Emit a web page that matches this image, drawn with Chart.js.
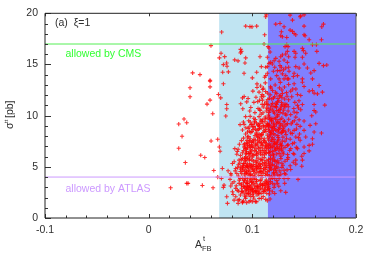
<!DOCTYPE html>
<html>
<head>
<meta charset="utf-8">
<style>
  html, body { margin: 0; padding: 0; background: #fff; }
  canvas { display: block; }
</style>
<script src="https://cdn.jsdelivr.net/npm/chart.js@4/dist/chart.umd.min.js"></script>
</head>
<body>
<canvas id="chart" width="374" height="262"></canvas>
<script>
// limits read from the experiments
const cmsLimit = 17;
const atlasLimit = 4;
const lightBand = [0.068, 0.115];
const darkBand = [0.115, 0.2];
const xMajor = [-0.1, 0, 0.1, 0.2];
const yMajor = [0, 5, 10, 15, 20];

// parameter scan, same order in both arrays
const afb = [
  .0936,.0977,.0704,.0601,.0887,.0894,.0887,.0698,.0733,.0682,.0936,.083,.0862,.0929,.0752,.0721,.0756,.0714,.0769,.092,.0424,.0495,.0592,
  .1135,.1129,.1364,.1467,.1499,.1387,.1461,.0997,.1042,.1226,.1267,.1306,.1499,.1686,.167,.1364,.1387,.1403,.1419,.128,.1274,.129,.1332,.1119,.1499,.1509,.1667,.1548,
  .1113,.1332,.1316,.1345,.158,.1618,.1161,.1151,.1483,.1493,.1515,.1622,.1171,.1338,.1403,.1419,.129,.1322,.1274,.135,.1412,.1074,.1145,.1483,.1226,.1177,.121,.1258,.1306,.1338,
  .1499,.1644,.1686,.1718,.1129,.1145,.1087,.1267,.128,.1203,.1242,.1322,.135,.1419,.1451,.1531,.1564,.1596,.1042,.1145,.1129,.1119,.1235,.129,.1322,.1403,.1435,.1483,.158,.1,
  .1177,.1258,.1306,.135,.1161,.1216,.13,.1354,.1396,.1338,.1193,.1267,
  .0592,.0399,.0592,.0721,.0399,.0673,.0695,.0592,.0563,.0753,.0753,.0618,.0744,.0341,.029,.0367,.0322,.0602,.0666,.029,.0682,
  .0905,.0921,.0959,.0888,.0946,.0908,.0975,.0979,.0882,.0914,.0921,.0953,.0969,.0937,.0895,.0953,.0969,.0927,.0953,.0921,.0831,.0863,.0979,.0937,.0979,.0979,
  .0502,.0541,.0354,.0628,.0689,.0711,.0766,.0666,.0702,.0212,.0367,.038,.0518,.0621,.0727,.0721,.076,.0753,.0792,.0785,.0824,.0808,.0824,.084,.0863,.0905,.0863,.0895,.0921,.085,.0808,.085,.0872,.0905,.084,
  .0969,.0937,.0959,.0946,.0921,.0882,.0872,.0953,.0969,.0937,.0905,.0953,.0921,.0969,.0937,.0888,.0969,.0979,.084,.0792,
  .1548,.1499,.1403,.1477,.1419,.1483,.1338,.1419,.1477,.137,.1306,.1274,.1322,.1441,.1345,.1306,.1312,.1274,.1322,.1216,.1193,.1171,.1145,.1129,.1139,.1087,.1042,.1,.101,.1065,.1106,.1161,.1209,.1242,.1258,.1216,.1193,.1145,.1097,.1048,.1,.1032,
  .1483,.1499,.1403,.158,.1548,.1644,.1596,.1628,.1676,.1467,.1435,.1596,.1699,.1483,.1435,.1596,.1612,.1467,.1403,.1573,.1451,.1499,.1419,.1612,.1557,.1461,.1387,.1596,.1667,.1499,.1403,.137,.1515,.1419,.158,.1548,.158,.1461,.1387,.1338,.137,.1499,.1435,
  .1045,.108,.1125,.118,.122,.127,.131,.135,.139,.1005,.1065,.11,.1145,.1195,.1235,.1285,.133,.137,.142,.1095,.1045,
  .1015,.1035,.107,.111,.1135,.1165,.1195,.1215,.1255,.1285,.1315,.135,.138,.141,.1095,.115,.1235,.1275,.1335,.145,
  .0985,.1025,.1055,.1085,.1105,.1135,.1155,.1175,.1205,.1225,.1245,.1265,.1295,.1315,.1345,.137,.14,.143,.1075,.115,.1235,.128,.1325,.1445,
  .0935,.0965,.0995,.1015,.104,.1065,.1085,.1105,.1125,.1145,.1165,.1185,.1205,.1225,.1245,.1265,.1285,.1305,.1325,.135,.1375,.1405,.143,.11,.118,.124,.116,.106,.102,
  .0905,.0935,.096,.0985,.1005,.1025,.1045,.1065,.1085,.1105,.1125,.1145,.1165,.1185,.1205,.1225,.1245,.1265,.1285,.1305,.1325,.135,.1385,.1425,.1455,.103,.107,.113,.1175,.1215,.1255,.1295,.109,
  .0875,.0915,.0945,.0975,.0995,.1015,.1035,.1055,.1075,.1095,.1115,.1135,.1155,.1175,.1195,.1215,.1235,.1255,.1275,.1295,.1315,.1345,.1365,.1405,.1445,.101,.105,.1085,.112,.1165,.1205,.1245,.128,.133,.0965,.115,
  .0855,.0885,.0915,.0935,.0955,.0975,.0995,.1015,.1035,.1055,.1075,.1095,.1115,.1135,.1155,.1175,.1195,.1215,.1235,.1255,.1275,.1295,.1315,.134,.136,.1395,.1425,.1,.104,.108,.1125,.1165,.1205,.1245,.1285,.0945,.0985,
  .0825,.0865,.0895,.0915,.0935,.0955,.0975,.0995,.1015,.1035,.1055,.1075,.1095,.1115,.1135,.1155,.1175,.1195,.1215,.1235,.1255,.1275,.1295,.1315,.1345,.1365,.1395,.1,.104,.108,.1125,.1165,.1205,.1245,.1285,.0985,.0945,.0925,
  .0795,.0835,.0865,.0885,.0905,.0925,.0945,.0965,.0985,.1005,.1025,.1045,.1065,.1085,.1105,.1125,.1145,.1165,.1185,.1205,.1225,.1245,.1265,.1285,.131,.1335,.1,.104,.108,.113,.1175,.1215,.126,.0975,.0935,
  .0805,.0845,.0875,.0895,.0915,.0935,.0955,.0975,.0995,.1015,.1035,.1055,.1075,.1095,.1115,.1135,.1155,.1175,.1195,.1215,.1235,.1255,.1,.104,.108,.1125,.0985,.0945,
  .0815,.0855,.0885,.0905,.0925,.0945,.0965,.0985,.1005,.1025,.1045,.1065,.1085,.1105,.1125,.1145,.1165,.1,.0975,.104,
  .0875,.0915,.0935,.098,.1015,.103,.1065,.0905,.0945
];
const sigma = [
  18.75,18.7,18.17,16.84,16.48,16.28,16.13,16.09,15.77,15.64,15.64,15.45,15.35,15.15,15.15,14.99,14.82,14.24,14.28,14.14,14.18,14.01,13.46,
  19.85,19.66,19.82,19.75,19.85,19.33,19.66,18.68,18.75,18.94,19.01,18.68,18.75,18.94,18.68,18.36,18.23,18.03,17.9,18.2,17.81,17.71,17.64,17.9,17.9,17.81,17.42,17.42,
  17.0,16.93,16.74,16.74,16.93,16.93,16.61,16.74,16.57,16.35,16.09,16.28,16.22,16.28,16.28,16.09,15.93,16.02,15.76,15.76,15.7,15.76,15.7,15.7,15.6,15.21,15.37,15.31,15.44,15.21,
  15.05,15.11,14.89,14.95,14.73,14.79,14.79,14.89,14.73,14.34,14.4,14.66,14.73,14.79,14.66,14.66,14.17,14.4,14.24,14.14,13.91,13.75,13.91,14.08,13.91,14.14,13.91,13.59,13.59,13.69,
  13.59,13.59,13.59,13.59,15.11,14.73,14.47,14.34,13.82,13.59,15.05,14.4,
  13.37,12.72,12.81,13.11,11.84,12.07,11.74,11.52,11.13,11.09,10.67,10.19,9.96,9.67,9.18,9.31,7.98,7.53,7.69,6.81,6.94,
  11.74,11.87,11.68,11.16,11.35,10.67,10.45,9.93,9.12,9.38,9.15,8.4,8.89,8.82,7.56,7.91,7.43,7.27,7.1,6.94,6.78,6.71,6.94,6.78,7.75,9.38,
  6.13,5.91,5.42,4.64,6.52,4.84,4.61,3.99,3.86,2.95,3.38,3.38,3.18,2.95,3.21,2.99,1.43,2.08,3.12,3.77,3.54,2.57,1.75,2.08,1.75,1.59,1.43,2.57,3.05,4.35,5.32,6.23,5.65,5.81,4.84,
  1.59,2.08,2.4,2.73,3.7,3.86,3.38,3.38,4.19,4.35,4.67,5.0,5.32,5.65,5.97,5.0,6.3,3.05,2.89,4.35,
  6.56,6.3,6.23,6.04,5.65,5.65,5.71,5.26,5.06,4.74,4.67,4.28,4.28,3.77,3.86,3.86,3.38,2.66,2.5,2.4,2.57,1.85,1.69,1.82,2.4,1.92,1.59,1.59,2.08,2.4,2.57,2.89,2.99,3.38,3.86,3.86,3.38,3.38,3.21,3.05,2.73,2.57,
  13.27,12.85,13.11,12.46,12.39,12.94,12.2,12.13,12.3,11.97,12.07,11.09,11.03,11.09,11.0,10.51,10.35,10.58,10.35,9.99,9.6,9.47,9.86,9.21,9.05,8.95,9.38,8.4,8.3,8.56,8.56,8.3,7.92,7.92,7.75,7.1,7.2,7.59,7.27,7.1,6.78,6.94,6.78,
  13.1,12.9,13.2,12.7,13.0,13.25,12.8,13.05,12.6,12.4,12.3,12.55,12.2,12.45,12.15,12.5,12.25,12.4,12.6,12.05,12.75,
  11.3,11.8,11.5,11.9,11.35,11.7,11.2,11.85,11.45,11.75,11.15,11.55,11.85,11.3,11.1,11.05,11.1,11.95,11.9,11.45,
  10.8,10.3,10.7,10.15,10.85,10.45,10.05,10.75,10.35,10.9,10.1,10.6,10.25,10.85,10.45,10.1,10.7,10.3,10.5,10.65,10.5,10.95,10.05,10.75,
  9.9,9.5,9.15,9.75,9.3,9.9,9.45,9.05,9.7,9.25,9.85,9.4,9.1,9.65,9.95,9.25,9.75,9.4,9.1,9.65,9.2,9.5,9.15,9.6,9.7,9.45,9.05,9.1,9.45,
  8.6,8.2,8.75,8.35,8.9,8.05,8.55,8.2,8.8,8.35,8.65,8.1,8.5,8.85,8.25,8.6,8.05,8.75,8.35,8.9,8.15,8.6,8.25,8.7,8.2,8.7,8.95,8.9,8.2,8.95,8.4,8.55,8.1,
  7.2,7.8,7.35,7.55,7.05,7.7,7.25,7.9,7.45,7.1,7.75,7.3,7.6,7.05,7.85,7.4,7.15,7.7,7.3,7.9,7.5,7.15,7.7,7.35,7.85,7.4,7.55,7.8,7.5,7.95,7.15,7.55,7.05,7.75,7.95,7.15,
  6.5,6.1,6.6,6.25,6.85,6.05,6.55,6.2,6.75,6.35,6.9,6.15,6.6,6.3,6.8,6.1,6.5,6.85,6.25,6.65,6.05,6.45,6.9,6.2,6.6,6.3,6.9,6.9,6.1,6.45,6.95,6.4,6.15,6.95,6.75,6.5,6.3,
  5.5,5.2,5.7,5.15,5.5,5.85,5.3,5.65,5.05,5.45,5.85,5.2,5.6,5.9,5.1,5.5,5.8,5.25,5.65,5.05,5.4,5.8,5.15,5.55,5.9,5.1,5.45,5.95,5.25,5.7,5.35,5.15,5.95,5.6,5.35,5.05,5.15,5.85,
  4.2,4.6,4.1,4.55,4.9,4.2,4.6,4.95,4.3,4.7,4.05,4.45,4.85,4.15,4.6,4.95,4.25,4.65,4.05,4.45,4.85,4.2,4.6,4.95,4.35,4.7,4.15,4.85,4.55,4.4,4.9,4.2,4.1,4.55,4.95,
  3.4,3.15,3.7,3.2,3.45,3.9,3.05,3.6,3.25,3.8,3.4,3.05,3.65,3.95,3.3,3.7,3.1,3.55,3.9,3.25,3.65,3.1,3.55,3.75,3.3,3.55,3.9,3.5,
  2.3,2.7,2.25,2.6,2.15,2.85,2.45,2.1,2.65,2.9,2.25,2.75,2.4,2.1,2.7,2.95,2.35,2.3,2.8,2.6,
  1.8,1.65,1.9,1.7,1.85,1.6,1.9,1.5,1.5
];

// the dense core of the cloud, read separately
const afbCore = [
  .0868,.0893,.0912,.0928,.0941,.0949,.0962,.0971,.0983,.0992,.1003,.1011,.1022,.1034,.1041,.1052,.1063,.1071,.1083,.1094,.1102,.1113,.1124,.1137,.1148,.1159,.1171,.0926,.0954,.1018,
  .0858,.0879,.0897,.0908,.0919,.0931,.0943,.0952,.0963,.0972,.0981,.0993,.1002,.1013,.1024,.1033,.1042,.1054,.1062,.1073,.1084,.1092,.1103,.1114,.1123,.1134,.1144,.1153,.1164,.1174,.1183,.1194,.1203,.1214,.1226,.1237,.1248,.1083,.1012,.0941,
  .0904,.0921,.0938,.0949,.0961,.0972,.0983,.0994,.1006,.1017,.1028,.1039,.1048,.1059,.1069,.1078,.1089,.1099,.1108,.1118,.1129,.1139,.1149,.1158,.1168,.1179,.1189,.1199,.1209,.1219,.1229,.1239,.1249,.1259,.1269,.1279,.1289,.1299,.1052,.1126,
  .0972,.0988,.1007,.1021,.1036,.1051,.1068,.1082,.1093,.1109,.1121,.1132,.1143,.1154,.1163,.1174,.1186,.1194,.1207,.1218,.1228,.1238,.1248,.1258,.1268,.1278,.1289,.1298,.1309,.1319,.1338,.1029,.1077,.1147,.1201,
  .1052,.1072,.1088,.1103,.1118,.1128,.1138,.1149,.1161,.1172,.1184,.1193,.1204,.1214,.1223,.1233,.1242,.1252,.1263,.1272,.1282,.1291,.1302,.1312,.1322,.1334,.1347,.1106,.1176,.1262,
  .0897,.0917,.0934,.0957,.0968,.0978,.0996,.1009,.1027,.1047,.1058,.1079,.1098,.1117,.1129,.1152,.1166,.0906,.0939,.0987,
  .0889,.0913,.0926,.0947,.0958,.0977,.0989,.1008,.1019,.1037,.1049,.1059,.1068,.1079,.1098,.1108,.1119,.1128,.1141,.1158,.1169,.1188,.1208,.1219,.1232,
  .0928,.0944,.0957,.0978,.0989,.1003,.1023,.1033,.1044,.1063,.1074,.1094,.1104,.1123,.1134,.1152,.1173,.1184,.1193,.1214,.1224,.1244,.1264,.1284,
  .0996,.1016,.1043,.1058,.1072,.1098,.1114,.1138,.1158,.1169,.1189,.1199,.1213,.1233,.1253,.1273,.1293,.1124,.1182,
  .1098,.1142,.1168,.1188,.1209,.1229,.1247,.1268,.1287,.1308
];
const sigmaCore = [
  2.62,3.31,2.47,2.94,2.38,3.36,2.73,3.18,2.56,3.47,2.88,2.44,3.14,2.69,3.58,2.96,2.52,3.22,3.71,2.83,3.36,2.58,3.03,3.44,2.77,3.27,3.82,3.62,3.83,3.93,
  4.92,5.36,4.34,5.08,4.77,5.62,4.41,5.27,4.68,5.76,4.23,5.12,4.88,5.56,4.31,5.03,4.72,5.47,4.18,5.31,4.83,5.74,4.36,5.16,4.74,5.62,4.53,5.29,4.12,5.44,4.78,5.68,4.33,5.09,4.66,5.38,4.91,4.48,4.55,5.78,
  6.37,7.16,6.72,7.58,6.29,7.03,6.66,7.41,6.14,6.93,7.62,6.47,7.12,6.83,7.71,6.23,7.34,6.76,7.57,6.18,7.06,6.64,7.82,6.37,7.24,6.88,7.49,6.24,7.68,6.58,7.33,6.79,7.87,6.31,7.18,6.62,7.52,6.27,7.93,6.43,
  8.47,9.12,8.63,9.28,8.31,9.06,8.74,9.57,8.18,8.92,9.41,8.44,9.74,8.68,9.16,8.37,9.53,8.82,9.27,8.13,9.83,8.52,9.34,8.86,9.62,8.29,9.08,8.71,9.47,8.41,9.22,9.63,8.11,9.12,8.58,
  11.37,10.62,11.83,10.28,11.12,12.36,10.74,11.58,10.32,12.03,11.04,10.57,11.72,10.23,12.28,10.83,11.36,10.47,11.93,10.72,11.28,12.17,10.54,11.63,10.16,11.08,10.87,12.68,12.82,12.71,
  2.91,3.08,2.66,3.02,2.24,2.99,2.78,3.41,2.54,3.11,2.37,2.91,3.16,2.84,3.19,3.52,2.71,3.88,3.14,3.73,
  4.78,5.32,4.53,5.04,4.37,5.18,4.86,5.23,4.67,5.64,4.96,5.12,4.54,5.02,5.28,4.81,5.42,4.16,4.91,5.73,4.97,5.17,4.71,5.53,4.47,
  6.94,6.33,7.26,6.44,7.18,7.52,6.58,7.14,6.28,7.38,6.61,7.22,6.42,7.38,6.87,7.03,6.53,7.63,6.96,7.27,6.72,7.42,6.84,7.11,
  8.44,8.93,8.17,8.66,9.23,9.38,8.51,9.04,8.93,9.62,8.49,9.71,8.77,9.18,8.64,9.06,8.48,9.87,8.19,
  11.52,11.13,10.48,11.62,10.88,11.22,11.68,10.31,11.06,10.93
];

const TEXT = '#2f2f2f';
const FONT = 'Liberation Sans, Arial, sans-serif';

const allAfb = afb.concat(afbCore);
const allSigma = sigma.concat(sigmaCore);
const scanPoints = allAfb.map((x, i) => ({ x: x, y: allSigma[i] }));

function limitLine(val) {
  return [{ x: -0.1, y: val }, { x: 0.2, y: val }];
}

const bandsPlugin = {
  id: 'bands',
  beforeDatasetsDraw(chart) {
    const { ctx, scales: { x, y } } = chart;
    const top = y.getPixelForValue(20);
    const bottom = y.getPixelForValue(0);
    ctx.save();
    ctx.fillStyle = '#c0e4f2';
    ctx.fillRect(x.getPixelForValue(lightBand[0]), top, x.getPixelForValue(lightBand[1]) - x.getPixelForValue(lightBand[0]), bottom - top);
    ctx.fillStyle = '#8080ff';
    ctx.fillRect(x.getPixelForValue(darkBand[0]), top, x.getPixelForValue(darkBand[1]) - x.getPixelForValue(darkBand[0]), bottom - top);
    ctx.restore();
  }
};

// gnuplot style frame: ticks point inward, labels sit on the canvas
const framePlugin = {
  id: 'frame',
  afterDraw(chart) {
    const { ctx, chartArea: a, scales: { x, y } } = chart;
    ctx.save();
    ctx.strokeStyle = '#333';
    ctx.lineWidth = 1;
    ctx.beginPath();
    for (let v = -10; v <= 20; v += 2) {
      const px = Math.round(x.getPixelForValue(v / 100)) + 0.5;
      const len = v % 10 === 0 ? 4 : 2.5;
      ctx.moveTo(px, a.bottom);
      ctx.lineTo(px, a.bottom - len);
      if (v % 10 === 0) {
        ctx.moveTo(px, a.top);
        ctx.lineTo(px, a.top + 3);
      }
    }
    for (let v = 0; v <= 20; v++) {
      const py = Math.round(y.getPixelForValue(v)) + 0.5;
      ctx.moveTo(a.left, py);
      ctx.lineTo(a.left + (v % 5 === 0 ? 6 : 3), py);
    }
    ctx.stroke();
    ctx.strokeStyle = '#222';
    ctx.beginPath();
    ctx.moveTo(a.left, a.top);
    ctx.lineTo(a.right, a.top);
    ctx.moveTo(a.left, a.top);
    ctx.lineTo(a.left, a.bottom);
    ctx.moveTo(a.left, a.bottom);
    ctx.lineTo(a.right, a.bottom);
    ctx.stroke();
    ctx.strokeStyle = '#555';
    ctx.beginPath();
    ctx.moveTo(a.right, a.top);
    ctx.lineTo(a.right, a.bottom);
    ctx.stroke();

    ctx.textBaseline = 'alphabetic';
    ctx.textAlign = 'left';
    ctx.font = '10.5px ' + FONT;
    ctx.fillStyle = TEXT;
    ctx.fillText('(a)  \u03BE=1', 55, 26);
    ctx.fillStyle = '#33ff33';
    ctx.fillText('allowed by CMS', 65.5, 57);
    ctx.fillStyle = '#cc99ff';
    ctx.fillText('allowed by ATLAS', 65.5, 191.5);

    // x title
    ctx.fillStyle = TEXT;
    ctx.font = '10.5px ' + FONT;
    ctx.fillText('A', 195, 248);
    ctx.font = '7.5px ' + FONT;
    ctx.fillText('FB', 202, 251);
    ctx.fillText('t', 203, 241);

    // y title
    ctx.translate(13, 129);
    ctx.rotate(-Math.PI / 2);
    ctx.font = '10.5px ' + FONT;
    ctx.fillText('\u03C3', 0, 0);
    ctx.font = '6px ' + FONT;
    ctx.fillText('tt', 6, -5);
    ctx.font = '10.5px ' + FONT;
    ctx.fillText('[pb]', 11, 0);
    ctx.restore();
  }
};

new Chart(document.getElementById('chart'), {
  type: 'scatter',
  data: {
    datasets: [
      {
        data: limitLine(cmsLimit),
        showLine: true,
        borderColor: '#55ee55',
        borderWidth: 1,
        pointRadius: 0
      },
      {
        data: limitLine(atlasLimit),
        showLine: true,
        borderColor: '#cc99ff',
        borderWidth: 1,
        pointRadius: 0
      },
      {
        data: scanPoints,
        pointStyle: 'cross',
        pointRadius: 2.1,
        borderColor: 'rgba(255,0,0,0.8)',
        borderWidth: 1.1
      }
    ]
  },
  options: {
    responsive: false,
    animation: false,
    layout: { padding: { top: 13, right: 18, left: 0, bottom: 0 } },
    plugins: { legend: { display: false }, tooltip: { enabled: false } },
    scales: {
      x: {
        type: 'linear',
        min: xMajor[0],
        max: xMajor[xMajor.length - 1],
        afterBuildTicks: (s) => { s.ticks = xMajor.map((v) => ({ value: v })); },
        afterFit: (s) => { s.height = 44; },
        grid: { display: false, drawTicks: false },
        border: { display: false },
        ticks: {
          color: TEXT,
          padding: 6,
          maxRotation: 0,
          font: { family: FONT, size: 10.5 },
          callback: (v) => String(v)
        }
      },
      y: {
        type: 'linear',
        min: yMajor[0],
        max: yMajor[yMajor.length - 1],
        afterBuildTicks: (s) => { s.ticks = yMajor.map((v) => ({ value: v })); },
        afterFit: (s) => { s.width = 45; },
        grid: { display: false, drawTicks: false },
        border: { display: false },
        ticks: {
          color: TEXT,
          padding: 7,
          font: { family: FONT, size: 10.5 },
          callback: (v) => String(v)
        }
      }
    }
  },
  plugins: [bandsPlugin, framePlugin]
});
</script>
</body>
</html>
